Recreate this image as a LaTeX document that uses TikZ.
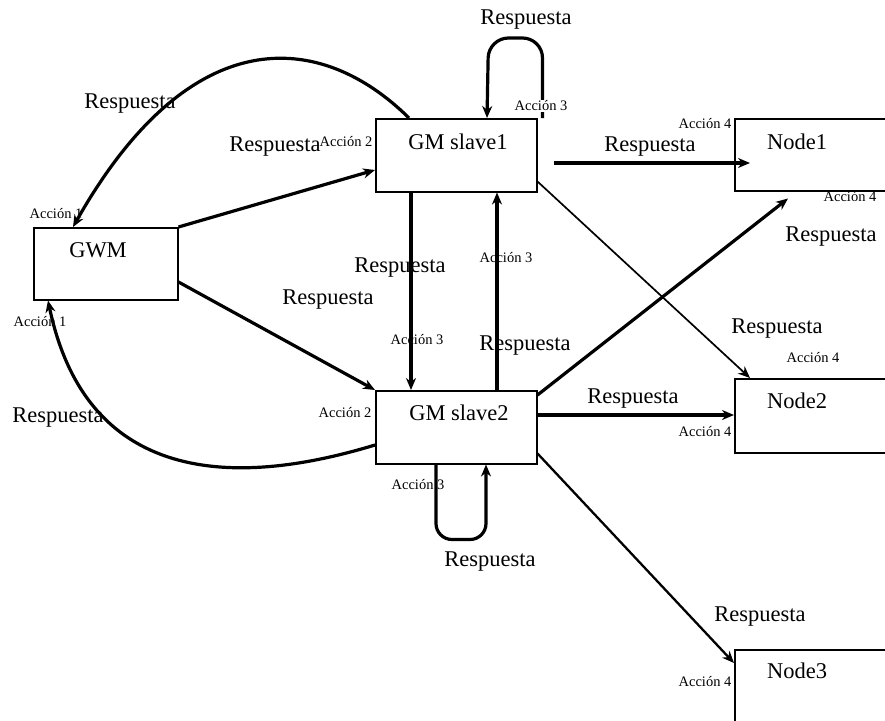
\documentclass[tikz,border=0pt]{standalone}
\usepackage{fontspec}
\setmainfont{Liberation Serif}
\usetikzlibrary{arrows.meta,calc}

\begin{document}
\begin{tikzpicture}[x=1pt,y=-1pt,
  box/.style={draw, line width=1.5pt, rectangle, anchor=north west, inner sep=0pt},
  title/.style={font=\fontsize{22.5}{24}\selectfont, anchor=base, inner sep=0pt},
  resp/.style={font=\fontsize{22.5}{24}\selectfont, inner sep=0pt},
  acc/.style={font=\fontsize{14.5}{15}\selectfont, inner sep=0pt},
  flow/.style={line width=3.2pt, -{Stealth[length=12pt,width=10pt]}},
  midflow/.style={line width=2.3pt, -{Stealth[length=12pt,width=10pt]}},
  thinflow/.style={line width=1.7pt, -{Stealth[length=12pt,width=10pt]}},
]
\useasboundingbox (0,0) rectangle (885,720);
\clip (0,0) rectangle (885,720);

% boxes
\node[box, minimum width=144pt, minimum height=72pt] (gwm) at (33,227) {};
\node[box, minimum width=161pt, minimum height=73pt] (s1) at (375,118) {};
\node[box, minimum width=161pt, minimum height=73pt] (s2) at (375,390) {};
\node[box, minimum width=165pt, minimum height=72pt] (n1) at (734,118) {};
\node[box, minimum width=165pt, minimum height=74pt] (n2) at (734,378) {};
\node[box, minimum width=165pt, minimum height=80pt] (n3) at (734,649) {};

% box titles
\node[title] (gwmt) at ($(gwm.north west)+(65,30)$) {GWM};
\node[title] (s1t) at ($(s1.north west)+(83,31)$) {GM slave1};
\node[title] (s2t) at ($(s2.north west)+(84,30)$) {GM slave2};
\node[title] (n1t) at ($(n1.north west)+(63,31)$) {Node1};
\node[title] (n2t) at ($(n2.north west)+(63,30)$) {Node2};
\node[title] (n3t) at ($(n3.north west)+(63,29)$) {Node3};

% connectors
\draw[flow] (gwm.north east) -- ($(s1.north west)+(0,52)$);
\draw[flow] ($(s1.north west)+(34,0)$) .. controls (320,30) and (190,20) .. ($(gwm.north west)+(40,0)$);
\draw[flow] ($(gwm.north east)+(0,55)$) -- (s2.north west);
\draw[flow] ($(s2.north west)+(0,55)$) .. controls (260,480) and (90,500) .. ($(gwm.south west)+(15,0)$);
\draw[flow] ($(s1.south west)+(36,0)$) -- ($(s2.north west)+(36,0)$);
\draw[flow] ($(s2.north west)+(122,0)$) -- ($(s1.south west)+(122,0)$);
\draw[flow, rounded corners=20pt] ($(s1.north east)+(5,0)$) -- ++(0,-80) -- ++(-54,0) -- ($(s1.north west)+(112,0)$);
\draw[flow, rounded corners=16pt] ($(s2.south west)+(61,0)$) -- ++(0,75) -- ++(50,0) -- ($(s2.south west)+(111,0)$);
\draw[flow] ($(s1.north east)+(16,45)$) -- ($(n1.north west)+(16,45)$);
\draw[thinflow] ($(s1.south east)+(0,-11)$) -- ($(n2.north west)+(16,0)$);
\draw[flow] ($(s2.north east)+(0,5)$) -- ($(n1.south west)+(54,7)$);
\draw[flow] ($(s2.north east)+(0,25)$) -- ($(n2.north west)+(0,37)$);
\draw[midflow] ($(s2.south east)+(0,-11)$) -- ($(n3.north west)+(0,14)$);

% reply labels
\node[resp] (r1) at (526,20) {Respuesta};
\node[resp] (r2) at (130,104) {Respuesta};
\node[resp] (r3) at (275,147) {Respuesta};
\node[resp] (r4) at (400,268) {Respuesta};
\node[resp] (r5) at (328,300) {Respuesta};
\node[resp] (r6) at (525,346) {Respuesta};
\node[resp] (r7) at (58,418) {Respuesta};
\node[resp] (r8) at (490,562) {Respuesta};
\node[resp] (r9) at (650,147) {Respuesta};
\node[resp] (r10) at (831,237) {Respuesta};
\node[resp] (r11) at (777,329) {Respuesta};
\node[resp] (r12) at (633,399) {Respuesta};
\node[resp] (r13) at (760,617) {Respuesta};

% action labels
\node[acc] (a1) at (56,214) {Acción 1};
\node[acc] (a2) at (40,322) {Acción 1};
\node[acc] (a3) at (346,142) {Acción 2};
\node[acc] (a4) at (345,413) {Acción 2};
\node[acc, fill=white, inner sep=1pt] (a5) at (541,106) {Acción 3};
\node[acc] (a6) at (506,258) {Acción 3};
\node[acc] (a7) at (417,340) {Acción 3};
\node[acc] (a8) at (418,485) {Acción 3};
\node[acc] (a9) at (705,124) {Acción 4};
\node[acc] (a10) at (850,197) {Acción 4};
\node[acc] (a11) at (813,358) {Acción 4};
\node[acc] (a12) at (705,432) {Acción 4};
\node[acc] (a13) at (705,682) {Acción 4};
\end{tikzpicture}
\end{document}
